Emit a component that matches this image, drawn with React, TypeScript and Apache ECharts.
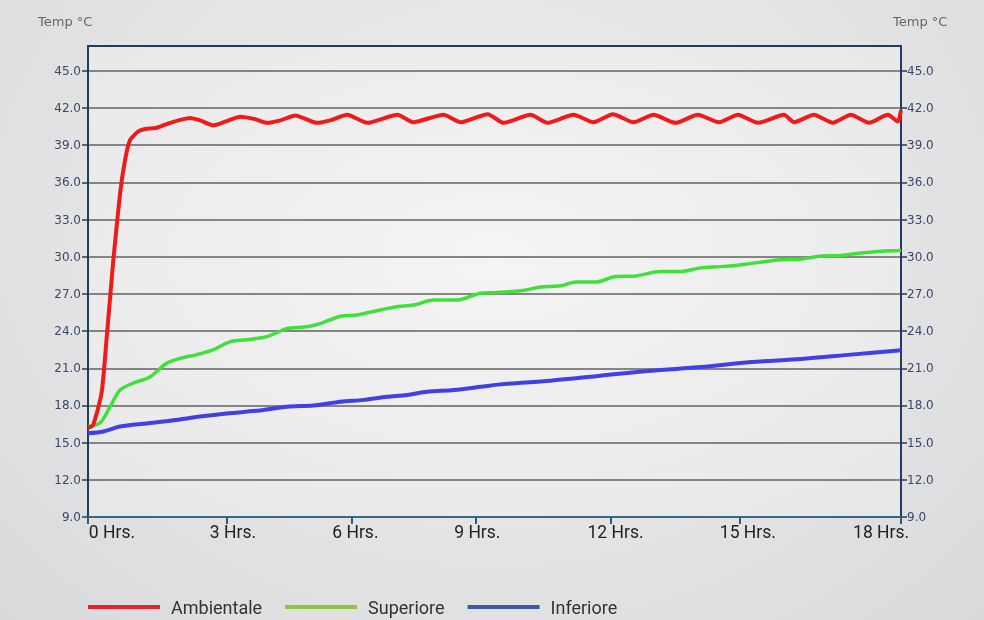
import React, { useEffect, useRef } from "react";
import * as echarts from "echarts";

// ---- data ----
const xTickLabels = ["0 Hrs.", "3 Hrs.", "6 Hrs.", "9 Hrs.", "12 Hrs.", "15 Hrs.", "18 Hrs."];
const xTickHours = [0, 3.08, 5.85, 8.58, 11.57, 14.43, 18];
const xLabelHours = [0.53, 3.21, 5.92, 8.62, 11.68, 14.61, 17.56];
const yTicks = [9, 12, 15, 18, 21, 24, 27, 30, 33, 36, 39, 42, 45];

const seriesNames = ["Ambientale", "Superiore", "Inferiore"];

const ambHours = [0, 0.11, 0.3, 0.41, 0.56, 0.71, 0.82, 0.93, 1.11, 1.26, 1.52, 1.74, 2.0, 2.26, 2.48, 2.77, 3.04, 3.37, 3.7, 3.96, 4.26, 4.59, 5.07, 5.36, 5.74, 6.18, 6.85, 7.2, 7.87, 8.25, 8.85, 9.2, 9.8, 10.17, 10.75, 11.19, 11.62, 12.08, 12.52, 13.01, 13.5, 13.97, 14.39, 14.83, 15.41, 15.63, 16.07, 16.49, 16.89, 17.29, 17.71, 17.93, 18.0];
const ambTemp = [16.2, 16.4, 19.0, 23.3, 29.7, 35.1, 37.8, 39.4, 40.1, 40.3, 40.4, 40.7, 41.0, 41.2, 41.0, 40.6, 40.9, 41.3, 41.1, 40.8, 41.0, 41.4, 40.8, 41.0, 41.45, 40.8, 41.45, 40.85, 41.45, 40.85, 41.5, 40.8, 41.45, 40.8, 41.45, 40.85, 41.5, 40.85, 41.45, 40.8, 41.45, 40.85, 41.45, 40.8, 41.45, 40.85, 41.45, 40.8, 41.45, 40.8, 41.45, 40.9, 41.8];

const supHours = [0, 0.27, 0.49, 0.71, 1.0, 1.37, 1.74, 2.04, 2.41, 2.78, 3.15, 3.52, 3.96, 4.4, 4.85, 5.14, 5.59, 5.96, 6.47, 6.84, 7.21, 7.65, 8.17, 8.69, 8.98, 9.58, 10.02, 10.46, 10.8, 11.24, 11.68, 12.13, 12.68, 13.12, 13.57, 14.01, 14.56, 15.34, 15.78, 16.23, 16.67, 17.11, 17.56, 18.0];
const supTemp = [16.3, 16.6, 17.9, 19.25, 19.8, 20.3, 21.4, 21.8, 22.1, 22.5, 23.15, 23.3, 23.55, 24.2, 24.35, 24.6, 25.2, 25.3, 25.7, 25.97, 26.1, 26.5, 26.5, 27.05, 27.1, 27.25, 27.55, 27.65, 27.95, 27.95, 28.4, 28.45, 28.8, 28.8, 29.1, 29.2, 29.4, 29.75, 29.8, 30.05, 30.1, 30.3, 30.45, 30.5];

const infHours = [0, 0.34, 0.71, 1.3, 1.89, 2.48, 3.07, 3.81, 4.4, 4.99, 5.59, 6.1, 6.62, 7.06, 7.51, 8.1, 8.69, 9.13, 10.24, 11.35, 12.46, 13.57, 14.68, 15.78, 16.89, 18.0];
const infTemp = [15.75, 15.9, 16.3, 16.55, 16.8, 17.1, 17.35, 17.6, 17.9, 18.0, 18.3, 18.45, 18.7, 18.85, 19.1, 19.25, 19.5, 19.7, 20.0, 20.4, 20.8, 21.1, 21.5, 21.75, 22.1, 22.45];

const lineColors = ["#f01a1a", "#40e03a", "#4040e6"];
const legendColors = ["#e8212a", "#8cc63f", "#3d5aa8"];

const zip = (xs: number[], ys: number[]) => xs.map((x, i) => [x, ys[i]]);

export default function App() {
  const ref = useRef<HTMLDivElement>(null);

  useEffect(() => {
    if (!ref.current) return;
    const chart = echarts.init(ref.current, null, { renderer: "svg" });
    const axisNavy = "#1d3e60";
    const yLabelStyle = { color: "#3a4868", fontSize: 12, fontFamily: "DejaVu Sans" };
    const yFormatter = (v: number) => (yTicks.indexOf(v) >= 0 ? v.toFixed(1) : "");

    const seriesData = [zip(ambHours, ambTemp), zip(supHours, supTemp), zip(infHours, infTemp)];

    chart.setOption({
      animation: false,
      grid: {
        left: 88,
        right: 83,
        top: 46,
        bottom: 103,
        show: true,
        borderColor: axisNavy,
        borderWidth: 2,
        backgroundColor: {
          type: "radial",
          x: 0.5,
          y: 0.45,
          r: 0.75,
          colorStops: [
            { offset: 0, color: "#f4f4f4" },
            { offset: 1, color: "#e7e7e8" },
          ],
        },
      },
      graphic: [
        {
          type: "text",
          left: 38,
          top: 15,
          style: { text: "Temp °C", fill: "#666666", fontSize: 13, fontFamily: "DejaVu Sans" },
        },
        {
          type: "text",
          left: 893,
          top: 15,
          style: { text: "Temp °C", fill: "#666666", fontSize: 13, fontFamily: "DejaVu Sans" },
        },
      ],
      legend: {
        left: 88,
        top: 598,
        padding: 0,
        icon: "rect",
        itemWidth: 72,
        itemHeight: 4,
        itemGap: 23,
        textStyle: {
          color: "#333333",
          fontSize: 18,
          fontFamily: "Roboto",
          padding: [0, 0, 3, 6],
        },
        data: seriesNames.map((n, i) => ({ name: n, itemStyle: { color: legendColors[i] } })),
      },
      xAxis: {
        type: "value",
        min: 0,
        max: 18,
        axisLine: { show: true, lineStyle: { color: "#3a6585", width: 2 } },
        axisTick: {
          show: true,
          length: 7,
          lineStyle: { color: "#2f5a7c", width: 2 },
          customValues: xTickHours,
        },
        axisLabel: {
          customValues: xLabelHours,
          formatter: (v: number) => {
            const i = xLabelHours.findIndex((h) => Math.abs(h - v) < 1e-6);
            return i >= 0 ? xTickLabels[i] : "";
          },
          color: "#222222",
          fontSize: 17.5,
          fontFamily: "Roboto",
          margin: 6,
        },
        splitLine: { show: false },
      },
      yAxis: [
        {
          type: "value",
          min: 9,
          max: 47,
          interval: 3,
          position: "left",
          axisLine: { show: true, lineStyle: { color: axisNavy, width: 2 } },
          axisTick: { show: true, length: 6, lineStyle: { color: axisNavy, width: 1.5 }, customValues: yTicks },
          axisLabel: { ...yLabelStyle, margin: 7, formatter: yFormatter, customValues: yTicks },
          splitLine: { show: true, lineStyle: { color: "#858585", width: 1.8 } },
        },
        {
          type: "value",
          min: 9,
          max: 47,
          interval: 3,
          position: "right",
          axisLine: { show: true, lineStyle: { color: axisNavy, width: 2 } },
          axisTick: { show: true, length: 6, lineStyle: { color: axisNavy, width: 1.5 }, customValues: yTicks },
          axisLabel: { ...yLabelStyle, margin: 6, formatter: yFormatter, customValues: yTicks },
          splitLine: { show: false },
        },
      ],
      series: seriesNames.map((n, i) => ({
        name: n,
        type: "line",
        yAxisIndex: 0,
        data: seriesData[i],
        showSymbol: false,
        smooth: i === 0 ? 0.2 : 0.3,
        lineStyle: { color: lineColors[i], width: i === 1 ? 3.5 : 4 },
        itemStyle: { color: lineColors[i] },
        z: 3 - i + 2,
      })),
    });
    return () => chart.dispose();
  }, []);

  return (
    <div
      ref={ref}
      style={{
        position: "fixed",
        left: 0,
        top: 0,
        width: 984,
        height: 620,
        background: "radial-gradient(ellipse at 50% 35%, #eeeeee 0%, #e4e4e5 55%, #d9dadc 100%)",
      }}
    />
  );
}
